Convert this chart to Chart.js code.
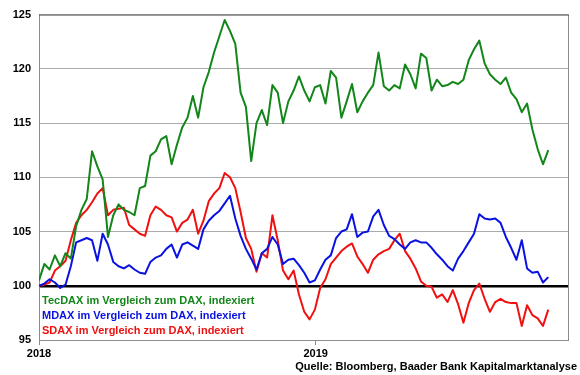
<!DOCTYPE html>
<html>
<head>
<meta charset="utf-8">
<script src="https://cdn.jsdelivr.net/npm/chart.js@4.4.0/dist/chart.umd.min.js"></script>
<style>
  html, body { margin: 0; padding: 0; background: #fff; }
  #wrap { width: 580px; height: 375px; }
</style>
</head>
<body>
<div id="wrap"><canvas id="chart"></canvas></div>
<script>
// weekly readings, first point = first trading week of 2018
var tecdax = [100.5, 102, 101.5, 102.8, 101.8, 103, 102.5, 105.5, 107, 108,
  112.4, 111, 109.8, 104.5, 106.5, 107.5, 107, 106.8, 106.5, 109,
  109.2, 112, 112.4, 113.5, 113.8, 111.2, 113, 114.6, 115.5, 117.5,
  115.5, 118.3, 119.7, 121.5, 123, 124.5, 123.5, 122.3, 117.8, 116.5,
  111.5, 115, 116.2, 114.8, 118.5, 117.8, 115, 117, 118, 119.3,
  118, 117, 118.3, 118.5, 116.8, 119.8, 119.2, 115.5, 117, 118.6,
  116, 117, 117.8, 118.5, 121.5, 118.4, 118, 118.5, 118.2, 120.4,
  119.5, 118.2, 121.4, 121, 118, 119, 118.4, 118.5, 118.8, 118.6,
  119, 120.8, 121.8, 122.6, 120.5, 119.5, 119, 118.6, 119.2, 117.8,
  117.2, 116, 116.8, 114.4, 112.6, 111.2, 112.5];

var mdax = [100, 100.2, 100.6, 100.3, 99.8, 100.1, 101.8, 104, 104.2, 104.4,
  104.2, 102.3, 104.8, 103.8, 102.2, 101.8, 101.6, 101.9, 101.5, 101.2,
  101.1, 102.2, 102.6, 102.8, 103.4, 103.8, 102.6, 103.8, 104, 103.7,
  103.4, 105.2, 106, 106.5, 106.9, 107.6, 108.3, 106.2, 104.6, 103.4,
  102.5, 101.5, 103, 103.4, 104.5, 103.8, 102, 102.4, 102.5, 101.9,
  101.2, 100.3, 100.5, 101.5, 102.4, 102.8, 104.4, 105, 105.2, 106.6,
  104.5, 104.9, 105, 106.4, 107, 105.6, 104.6, 104.3, 103.8, 103.4,
  104, 104.2, 104, 104, 103.5, 102.9, 102.4, 101.8, 101.4, 102.5,
  103.2, 104, 104.8, 106.6, 106.2, 106.1, 106.2, 105.8, 104.5, 103.5,
  102.4, 104.2, 101.6, 101.2, 101.3, 100.3, 100.8];

var sdax = [100, 100.1, 100.3, 101.4, 101.8, 102.3, 104.2, 105.8, 106.5, 107,
  107.7, 108.5, 109, 106.5, 107, 107.1, 107.2, 105.6, 105.2, 104.8,
  104.6, 106.5, 107.3, 107, 106.5, 106.3, 105, 105.8, 106.1, 107,
  104.8, 106, 107.8, 108.5, 109, 110.4, 110, 109, 106.8, 104.4,
  103.4, 101.3, 103, 102.6, 106.5, 104.2, 101.4, 100.6, 101.4, 99.2,
  97.6, 96.9, 97.8, 99.8, 100.6, 102, 102.6, 103.2, 103.6, 103.9,
  102.7, 102, 101.2, 102.4, 102.9, 103.2, 103.4, 104.2, 104.8, 103.2,
  102.5, 101.6, 100.4, 100, 99.9, 98.9, 99.2, 98.5, 99.6, 98.3,
  96.6, 98.4, 99.6, 100.2, 98.8, 97.6, 98.5, 98.8, 98.5, 98.4,
  98.4, 96.3, 98.2, 97.3, 97, 96.3, 97.8];

var seriesNames = ["TecDAX im Vergleich zum DAX, indexiert",
                   "MDAX im Vergleich zum DAX, indexiert",
                   "SDAX im Vergleich zum DAX, indexiert"];
var seriesColors = ["#13861a", "#0a12e0", "#f01010"];
var yearLabels = ["2018", "2019"];
var yearStarts = [0, 365]; // day offsets
var source = "Quelle: Bloomberg, Baader Bank Kapitalmarktanalyse";

var FONT = "'Liberation Sans', Arial, sans-serif";

function toPoints(arr) {
  return arr.map(function (v, i) { return { x: i * 7, y: v }; });
}

var framePlugin = {
  id: "frame",
  afterDraw: function (chart) {
    var c = chart.ctx, a = chart.chartArea;
    c.save();
    c.strokeStyle = "#8c8c8c";
    c.lineWidth = 1;
    c.beginPath();
    c.moveTo(a.right + 0.5, a.top);
    c.lineTo(a.right + 0.5, a.bottom);
    c.stroke();
    c.strokeStyle = "#5a5a5a";
    c.beginPath();
    c.moveTo(a.left, a.top + 0.5);
    c.lineTo(a.right + 1, a.top + 0.5);
    c.stroke();

    // legend inside the plot
    c.font = "bold 11px " + FONT;
    c.textBaseline = "middle";
    c.textAlign = "left";
    var ys = [301, 316, 331];
    for (var i = 0; i < seriesNames.length; i++) {
      c.fillStyle = seriesColors[i];
      c.fillText(seriesNames[i], a.left + 3, ys[i]);
    }
    // source line
    c.fillStyle = "#000";
    c.textAlign = "right";
    c.fillText(source, 577, 367);
    c.restore();
  }
};

var ctx = document.getElementById("chart");
var chart = new Chart(ctx, {
  type: "line",
  data: {
    datasets: [
      { label: seriesNames[0], data: toPoints(tecdax), borderColor: seriesColors[0] },
      { label: seriesNames[1], data: toPoints(mdax), borderColor: seriesColors[1] },
      { label: seriesNames[2], data: toPoints(sdax), borderColor: seriesColors[2] }
    ]
  },
  options: {
    responsive: true,
    maintainAspectRatio: false,
    animation: false,
    layout: { padding: { left: 0, right: 12, top: 8, bottom: 0 } },
    elements: {
      point: { radius: 0 },
      line: { borderWidth: 2, tension: 0, borderJoinStyle: "round" }
    },
    plugins: {
      legend: { display: false },
      tooltip: { enabled: false }
    },
    scales: {
      x: {
        type: "linear",
        min: 0,
        max: 698,
        afterBuildTicks: function (s) {
          s.ticks = yearStarts.map(function (v) { return { value: v }; });
        },
        afterFit: function (s) { s.height = 35; },
        ticks: {
          autoSkip: false,
          maxRotation: 0,
          padding: 2,
          color: "#000",
          font: { family: FONT, size: 11, weight: "bold" },
          callback: function (v) {
            var k = yearStarts.indexOf(v);
            return k >= 0 ? yearLabels[k] : "";
          }
        },
        grid: { drawOnChartArea: false, tickLength: 5, color: "#8c8c8c" },
        border: { color: "#8c8c8c" }
      },
      y: {
        min: 95,
        max: 125,
        afterFit: function (s) { s.width = 39; },
        ticks: {
          stepSize: 5,
          padding: 8,
          color: "#000",
          font: { family: FONT, size: 11, weight: "bold" }
        },
        grid: {
          drawTicks: false,
          color: function (c) { return c.tick && c.tick.value === 100 ? "#000" : "#ababab"; },
          lineWidth: function (c) { return c.tick && c.tick.value === 100 ? 2.5 : 1; }
        },
        border: { color: "#8c8c8c" }
      }
    }
  },
  plugins: [framePlugin]
});
</script>
</body>
</html>
